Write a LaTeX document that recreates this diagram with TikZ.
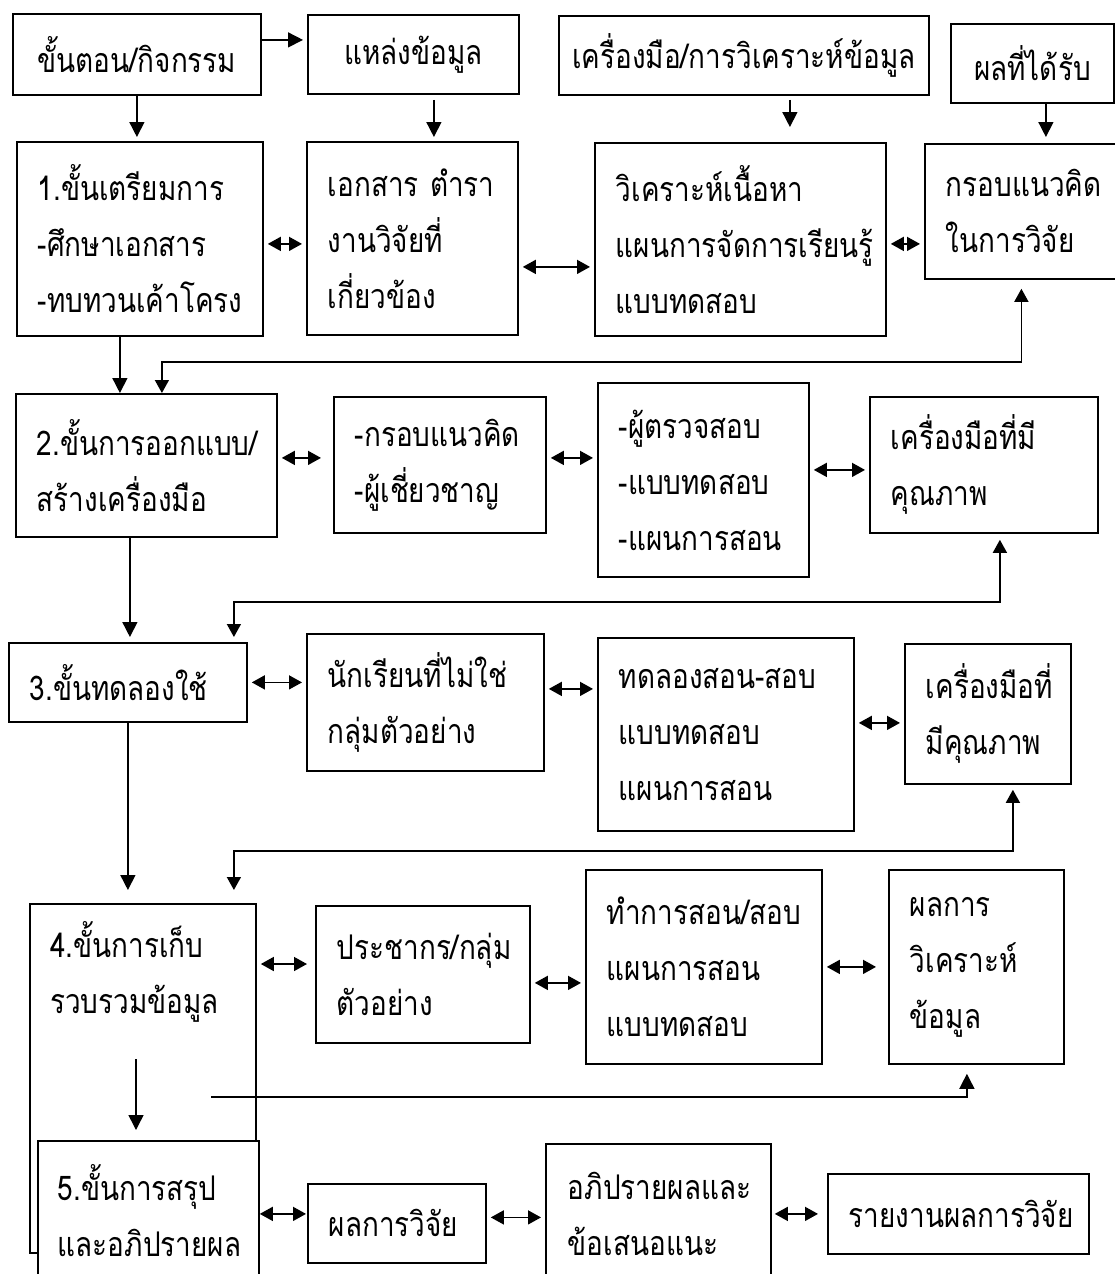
\documentclass[tikz,border=0pt]{standalone}
\usepackage{fontspec}
\newfontfamily\thaifont[Script=Thai,FakeStretch=0.82]{Loma}
\usetikzlibrary{arrows.meta,positioning}

\begin{document}
\begin{tikzpicture}[
 x=1pt,y=-1pt,
 box/.style={draw,line width=1.8pt,fill=white,inner sep=0pt,anchor=north west,align=left,font=\thaifont\fontsize{34}{56}\selectfont,
   execute at begin node={\exhyphenpenalty=10000\hyphenpenalty=10000}},
 headbox/.style={box,align=center},
 txt/.style={inner sep=0pt,align=left,font=\thaifont\fontsize{34}{56}\selectfont},
 arr/.style={-{Triangle[length=15pt,width=15pt]},line width=1.5pt},
 dbl/.style={{Triangle[length=13pt,width=14pt]}-{Triangle[length=13pt,width=14pt]},line width=1.5pt,shorten <=4pt,shorten >=4pt}
]
\useasboundingbox (0,0) rectangle (1115,1274);
\clip (0,0) rectangle (1115,1274);

\node[headbox,minimum width=248pt,minimum height=81pt] (hA) at (12,13) {ขั้นตอน/กิจกรรม};
\node[headbox,minimum width=211pt,minimum height=79pt] (hB) at (307,14) {แหล่งข้อมูล};
\node[headbox,minimum width=370pt,minimum height=79pt] (hC) at (558,15) {เครื่องมือ/การวิเคราะห์ข้อมูล};
\node[headbox,minimum width=163pt,minimum height=79pt] (hD) at (950,23) {ผลที่ได้รับ};

\node[box,minimum width=246pt,minimum height=194pt,text width=204pt] (s1) at (16,141) {1.ขั้นเตรียมการ\\-ศึกษาเอกสาร\\-ทบทวนเค้าโครง};
\node[box,minimum width=211pt,minimum height=193pt,text width=169pt] (src) at (306,141) {เอกสาร~ตำรา\\งานวิจัยที่\\เกี่ยวข้อง};
\node[box,minimum width=291pt,minimum height=193pt,text width=249pt] (ana) at (594,142) {วิเคราะห์เนื้อหา\\แผนการจัดการเรียนรู้\\แบบทดสอบ};
\node[box,minimum width=193pt,minimum height=135pt,text width=151pt] (fr) at (924,143) {กรอบแนวคิด\\ในการวิจัย};

\node[box,minimum width=261pt,minimum height=143pt,text width=219pt] (s2) at (15,393) {2.ขั้นการออกแบบ/\\สร้างเครื่องมือ};
\node[box,minimum width=212pt,minimum height=136pt,text width=170pt] (exp) at (333,396) {-กรอบแนวคิด\\-ผู้เชี่ยวชาญ};
\node[box,minimum width=211pt,minimum height=194pt,text width=169pt] (rev) at (597,382) {-ผู้ตรวจสอบ\\-แบบทดสอบ\\-แผนการสอน};
\node[box,minimum width=228pt,minimum height=136pt,text width=186pt] (q1) at (869,396) {เครื่องมือที่มี\\คุณภาพ};

\node[box,minimum width=238pt,minimum height=79pt,text width=196pt] (s3) at (8,642) {3.ขั้นทดลองใช้};
\node[box,minimum width=237pt,minimum height=137pt,text width=195pt] (ns) at (306,633) {นักเรียนที่ไม่ใช่\\กลุ่มตัวอย่าง};
\node[box,minimum width=256pt,minimum height=193pt,text width=214pt] (tr) at (597,637) {ทดลองสอน-สอบ\\แบบทดสอบ\\แผนการสอน};
\node[box,minimum width=166pt,minimum height=140pt,text width=124pt] (q2) at (904,643) {เครื่องมือที่\\มีคุณภาพ};

\node[box,minimum width=226pt,minimum height=349pt] (s4) at (29,903) {};
\node[txt,below right=18pt and 21pt of s4.north west,anchor=north west] (s4t) {4.ขั้นการเก็บ\\รวบรวมข้อมูล};
\node[box,minimum width=214pt,minimum height=137pt,text width=172pt] (pop) at (315,905) {ประชากร/กลุ่ม\\ตัวอย่าง};
\node[box,minimum width=236pt,minimum height=194pt,text width=194pt] (tch) at (585,869) {ทำการสอน/สอบ\\แผนการสอน\\แบบทดสอบ};
\node[box,minimum width=175pt,minimum height=194pt,text width=133pt] (res) at (888,869) {ผลการ\\วิเคราะห์\\ข้อมูล};

\node[box,minimum width=221pt,minimum height=140pt,text width=181pt] (s5) at (37,1140) {5.ขั้นการสรุป\\และอภิปรายผล};
\node[box,minimum width=178pt,minimum height=79pt,text width=136pt] (rr) at (307,1183) {ผลการวิจัย};
\node[box,minimum width=225pt,minimum height=140pt,text width=181pt] (dis) at (545,1143) {อภิปรายผลและ\\ข้อเสนอแนะ};
\node[box,minimum width=261pt,minimum height=80pt,text width=219pt] (rep) at (827,1173) {รายงานผลการวิจัย};

\coordinate[below right=156pt and 107pt of s4.north west] (s4dn);
\coordinate[below right=194pt and 182pt of s4.north west] (s4out);

\draw[arr,shorten >=4pt] ([yshift=14.5pt]hA.east) -- ([yshift=14.5pt]hA.east -| hB.west);
\draw[arr,shorten >=4pt] (hA.south) -- (hA.south |- s1.north);
\draw[arr,shorten <=5pt,shorten >=4pt] ([xshift=20.5pt]hB.south) -- ([xshift=20.5pt]hB.south |- src.north);
\draw[arr,shorten <=4pt,shorten >=15pt] ([xshift=46pt]hC.south) -- ([xshift=46pt]hC.south |- ana.north);
\draw[arr,shorten >=6pt] ([xshift=13.5pt]hD.south) -- ([xshift=13.5pt]hD.south |- fr.north);

\draw[dbl] ([yshift=-5pt]s1.east) -- ([yshift=-5pt]s1.east -| src.west);
\draw[dbl] ([yshift=-28.5pt]src.east) -- ([yshift=-28.5pt]src.east -| ana.west);
\draw[dbl] ([yshift=-4.5pt]ana.east) -- ([yshift=-4.5pt]ana.east -| fr.west);
\draw[arr] ([xshift=-20pt]s1.south) -- ([xshift=-20pt]s1.south |- s2.north);
\draw[dbl,shorten <=0pt,shorten >=9pt] ([xshift=15.5pt]s2.north) -- ++(0,-31) -| (fr.south);

\draw[dbl,shorten >=12pt] ([yshift=7.5pt]s2.east) -- ([yshift=7.5pt]s2.east -| exp.west);
\draw[dbl] ([yshift=7pt]exp.east) -- ([yshift=7pt]exp.east -| rev.west);
\draw[dbl] ([yshift=10pt]rev.east) -- ([yshift=10pt]rev.east -| q1.west);
\draw[arr,shorten >=5pt] ([xshift=-16.5pt]s2.south) -- ([xshift=-16.5pt]s2.south |- s3.north);
\draw[dbl,shorten <=5pt,shorten >=6pt] ([xshift=106pt]s3.north) -- ++(0,-40) -| ([xshift=16pt]q1.south);

\draw[dbl] (s3.east) -- (s3.east -| ns.west);
\draw[dbl] ([yshift=13.5pt]ns.east) -- ([yshift=13.5pt]ns.east -| tr.west);
\draw[dbl] ([yshift=11.5pt]tr.east) -- ([yshift=11.5pt]tr.east -| q2.west);
\draw[arr,shorten >=13pt] (s3.south) -- (s3.south |- s4.north);
\draw[dbl,shorten <=13pt,shorten >=5pt] ([xshift=91pt]s4.north) -- ++(0,-52) -| ([xshift=25pt]q2.south);

\draw[dbl,shorten >=8pt] ([yshift=-61pt]s4.north east) -- ([yshift=-61pt]s4.north east -| pop.west);
\draw[dbl] ([yshift=-8.5pt]pop.east) -- ([yshift=-8.5pt]pop.east -| tch.west);
\draw[dbl,shorten >=12pt] (tch.east) -- (tch.east -| res.west);
\draw[arr,shorten >=10pt] (s4dn) -- (s4dn |- s5.north);
\draw[arr,shorten >=9pt] (s4out) -| ([xshift=-9.5pt]res.south);

\draw[dbl,shorten <=0pt,shorten >=1pt] ([yshift=-3pt]s5.east) -- ([yshift=-3pt]s5.east -| rr.west);
\draw[dbl] ([yshift=6pt]rr.east) -- ([yshift=6pt]rr.east -| dis.west);
\draw[dbl,shorten <=3pt,shorten >=9pt] (dis.east) -- (dis.east -| rep.west);
\end{tikzpicture}
\end{document}
